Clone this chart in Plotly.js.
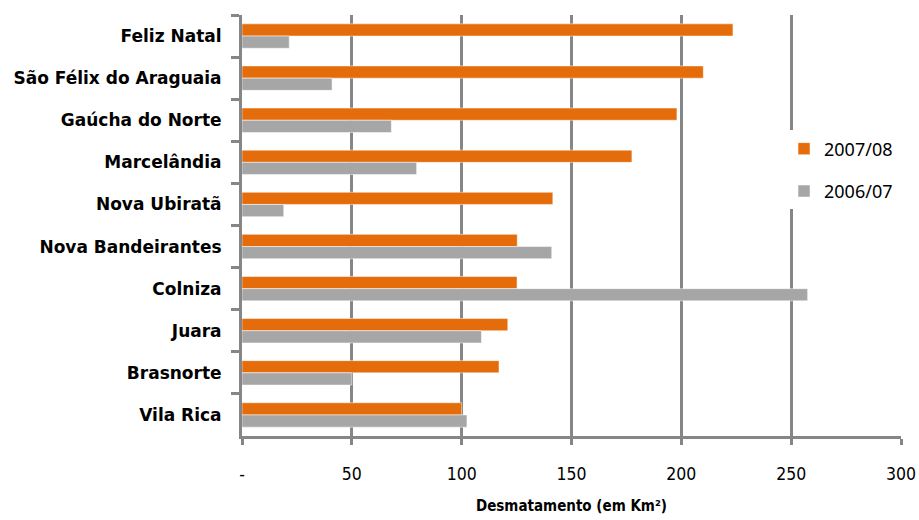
<!DOCTYPE html>
<html>
<head>
<meta charset="utf-8">
<script src="https://cdn.plot.ly/plotly-3.0.1.min.js"></script>
<style>html,body{margin:0;padding:0;background:#fff;}#chart{width:919px;height:520px;}</style>
</head>
<body>
<div id="chart"></div>
<script>
const categories = ["Feliz Natal", "São Félix do Araguaia", "Gaúcha do Norte", "Marcelândia", "Nova Ubiratã", "Nova Bandeirantes", "Colniza", "Juara", "Brasnorte", "Vila Rica"];
const values2007_08 = [223.5, 210, 198, 177.5, 141.5, 125.3, 125.2, 121, 117, 100];
const values2006_07 = [21.5, 41, 68, 79.5, 19, 141, 257.5, 109, 50, 102.4];
const seriesNames = ["2007/08", "2006/07"];
const tickValues = [0, 50, 100, 150, 200, 250, 300];
const tickLabels = ["-", "50", "100", "150", "200", "250", "300"];

const traces = [
  {type: "bar", orientation: "h", name: seriesNames[0], y: categories, x: values2007_08,
   legendgroup: "a",
   marker: {color: "#E46C0A", line: {color: "rgba(255,255,255,0.5)", width: 1}}},
  {type: "bar", orientation: "h", name: seriesNames[1], y: categories, x: values2006_07,
   legendgroup: "b",
   marker: {color: "#A6A6A6", line: {color: "rgba(255,255,255,0.5)", width: 1}}}
];

const layout = {
  width: 919, height: 520,
  margin: {l: 242, r: 18, t: 15, b: 84},
  paper_bgcolor: "#fff", plot_bgcolor: "#fff",
  barmode: "group", bargap: 0.42, bargroupgap: 0,
  showlegend: true,
  legend: {x: 0.8225, xanchor: "left", y: 0.632, yanchor: "middle",
           bgcolor: "#fff", tracegroupgap: 16, traceorder: "grouped",
           font: {family: "Noto Sans, Liberation Sans, sans-serif", size: 18, color: "#000"}},
  xaxis: {range: [0, 300], tickvals: tickValues, ticktext: tickLabels,
          showgrid: true, gridcolor: "#868686", gridwidth: 3,
          showline: true, linecolor: "#868686", linewidth: 3,
          ticks: "outside", ticklen: 6, tickwidth: 3, tickcolor: "#868686",
          ticklabelstandoff: 14, zeroline: false,
          tickfont: {family: "DejaVu Sans Condensed, Liberation Sans, sans-serif", size: 17.5, color: "#000"},
          title: {text: "<b>Desmatamento (em Km²)</b>", standoff: 18,
                  font: {family: "DejaVu Sans Condensed, Liberation Sans, sans-serif", size: 15, color: "#000"}}},
  yaxis: {autorange: "reversed", showline: true, linecolor: "#868686", linewidth: 3,
          ticks: "outside", tickson: "boundaries", ticklen: 8, tickwidth: 3, tickcolor: "#868686",
          ticklabelstandoff: 14, showgrid: false, zeroline: false,
          tickfont: {family: "DejaVu Sans, sans-serif", size: 17, color: "#000", weight: "bold"}}
};

Plotly.newPlot("chart", traces, layout, {displayModeBar: false, staticPlot: true});
</script>
</body>
</html>
